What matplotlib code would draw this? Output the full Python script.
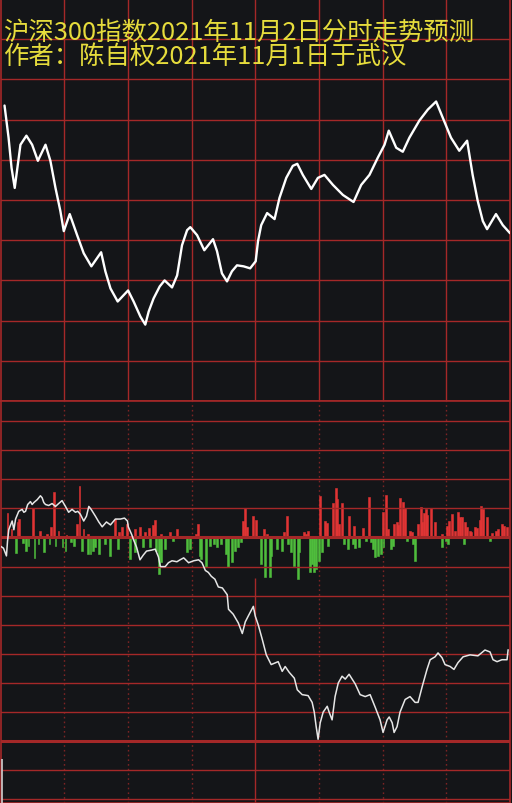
import matplotlib.pyplot as plt

plt.rcParams['font.family'] = ['Noto Sans CJK SC', 'DejaVu Sans']

title_1 = '沪深300指数2021年11月2日分时走势预测'
title_2 = '作者：陈自权2021年11月1日于武汉'

# top panel: forecast curve (minute of session, value)
fc_min = [1.9, 3.8, 5.2, 6.7, 9.4, 12.2, 14.9, 17.6, 21.2, 23.5,
          25.9, 28.2, 29.8, 32.6, 36.1, 39.2, 42.8, 47.4, 49.4, 51.8,
          55.2, 60.1, 62.7, 65.9, 68.2, 69.8, 72.1, 75.0, 77.3, 80.8,
          83.2, 85.5, 87.9, 89.4, 92.6, 96.0, 100.1, 102.0, 104.3, 106.7,
          109.0, 111.4, 114.5, 117.6, 120.2, 121.3, 122.8, 125.6, 129.1, 131.4,
          134.6, 137.7, 139.8, 142.4, 146.4, 149.5, 152.6, 156.6, 161.3, 166.3,
          169.9, 173.8, 177.7, 180.9, 182.9, 186.4, 189.5, 192.6, 197.3, 201.3,
          205.2, 208.3, 212.2, 216.1, 219.8, 222.4, 224.8, 227.2, 229.2, 233.4,
          236.6, 240.0]
fc_val = [294, 262, 232, 212, 255, 264, 255, 239, 255, 239,
          212, 189, 169, 186, 165, 147, 134, 148, 129, 112,
          99, 110, 99, 84, 76, 89, 102, 114, 120, 113,
          125, 155, 170, 173, 165, 150, 161, 149, 127, 119,
          129, 135, 134, 132, 139, 159, 175, 187, 181, 202,
          222, 234, 236, 225, 211, 222, 225, 215, 205, 198,
          215, 225, 242, 255, 269, 252, 248, 262, 279, 290,
          298, 282, 262, 249, 259, 225, 199, 179, 171, 186,
          175, 167]

# bottom panel: white line
ln_min = [0, 1.4, 2.8, 3.3, 3.9, 4.4, 5.5, 6.3, 7.1, 8.6,
          10.2, 11.0, 11.8, 12.8, 14.1, 14.9, 15.7, 17.3, 18.8, 19.6,
          20.4, 21.2, 22.7, 24.3, 25.9, 27.4, 29.0, 29.8, 30.6, 32.1,
          33.7, 35.3, 36.4, 37.6, 39.2, 40.5, 41.6, 42.7, 44.7, 46.3,
          47.9, 49.9, 51.8, 54.1, 56.5, 58.4, 59.8, 60.2, 61.8, 62.6,
          64.1, 65.7, 67.3, 68.8, 71.2, 72.9, 74.4, 75.3, 77.6, 79.1,
          80.8, 83.1, 84.6, 86.3, 88.6, 91.0, 93.3, 94.9, 96.5, 97.9,
          99.3, 101.0, 102.6, 104.5, 106.8, 107.4, 109.6, 112.0, 113.9, 115.3,
          116.7, 119.1, 120.0, 121.4, 123.3, 125.2, 127.5, 130.8, 132.7, 134.1,
          136.0, 138.4, 139.8, 142.1, 144.9, 146.8, 147.8, 148.7, 149.6, 150.6,
          152.0, 153.9, 154.8, 156.2, 157.6, 159.1, 160.9, 162.4, 164.2, 167.1,
          169.4, 171.8, 174.1, 176.5, 178.8, 180.2, 182.1, 183.1, 184.5, 185.4,
          186.8, 188.2, 190.6, 192.9, 195.3, 196.7, 198.6, 200.9, 202.4, 204.7,
          206.1, 208.0, 209.4, 211.8, 213.6, 215.5, 217.9, 221.2, 224.9, 228.2,
          230.6, 232.0, 233.9, 236.2, 238.6, 239.1]
ln_val = [-9, -11, -19, -4, 8, 11, 17, 8, 19, 27,
          29, 26, 27, 34, 37, 34, 36, 39, 43, 41,
          36, 34, 33, 35, 32, 35, 38, 35, 32, 26,
          29, 26, 27, 24, 17, 22, 32, 29, 22, 16,
          11, 16, 13, 19, 19, 20, 17, 11, 3, -2,
          -10, -23, -18, -14, -13, -12, -20, -30, -30, -26,
          -24, -25, -23, -21, -26, -24, -23, -26, -34, -36,
          -40, -43, -51, -52, -59, -74, -79, -88, -99, -87,
          -81, -71, -81, -90, -105, -121, -131, -128, -138, -133,
          -139, -145, -157, -162, -163, -170, -180, -195, -208, -191,
          -180, -174, -180, -188, -164, -150, -143, -146, -141, -151,
          -162, -164, -162, -175, -188, -201, -188, -185, -191, -201,
          -195, -180, -167, -164, -170, -170, -154, -136, -126, -123,
          -119, -124, -131, -133, -136, -129, -123, -121, -122, -116,
          -118, -126, -128, -126, -126, -116]

# bottom panel: red (up) and green (down) bars
up_min = [3.3, 5.2, 8.0, 8.9, 15.5, 18.8, 22.1, 24.0, 25.4, 27.3,
          31.1, 36.2, 37.2, 39.1, 41.4, 54.1, 56.0, 57.4, 59.8, 63.5,
          65.9, 68.2, 70.1, 72.0, 72.9, 75.8, 80.0, 83.3, 92.2, 93.2,
          114.4, 115.3, 116.2, 119.1, 120.5, 124.2, 125.6, 133.6, 135.1, 143.1,
          144.0, 144.9, 150.6, 152.9, 153.9, 156.7, 158.1, 158.6, 159.5, 160.9,
          164.2, 166.6, 170.8, 173.6, 180.2, 181.6, 182.6, 185.4, 186.7, 187.3,
          188.2, 189.6, 190.4, 192.9, 193.9, 196.7, 198.1, 198.6, 199.5, 200.5,
          200.9, 202.8, 204.7, 208.0, 210.4, 211.3, 212.7, 214.1, 215.5, 216.5,
          217.4, 218.8, 219.8, 221.2, 221.6, 223.5, 224.5, 225.9, 226.4, 227.3,
          229.2, 231.5, 233.4, 234.4, 236.2, 237.2, 238.6]
up_val = [25, 9, 16, 19, 30, 7, 4, 11, 47, 7,
          3, 14, 53, 9, 4, 19, 6, 11, 14, 9,
          11, 6, 10, 13, 18, 4, 6, 9, 4, 14,
          17, 30, 11, 22, 18, 9, 4, 6, 22, 6,
          4, 7, 43, 17, 15, 36, 51, 40, 14, 36,
          22, 12, 10, 42, 26, 44, 9, 14, 16, 13,
          41, 37, 30, 7, 6, 14, 31, 16, 25, 29,
          23, 30, 16, 4, 12, 17, 24, 7, 26, 21,
          21, 16, 11, 7, 6, 11, 10, 18, 32, 29,
          21, 5, 7, 9, 14, 12, 11]
dn_min = [7.5, 10.4, 11.8, 13.2, 16.0, 17.9, 20.5, 23.1, 25.9, 29.2,
          30.6, 33.4, 34.8, 38.6, 41.4, 42.4, 43.5, 44.7, 46.4, 49.4,
          51.5, 55.5, 61.2, 63.5, 67.3, 70.6, 73.4, 74.8, 75.8, 77.6,
          81.4, 88.0, 89.4, 94.1, 94.6, 96.9, 98.8, 100.7, 102.1, 104.0,
          106.4, 107.3, 109.2, 110.6, 112.0, 113.4, 122.8, 124.7, 127.1, 127.5,
          130.4, 132.7, 135.5, 136.9, 138.4, 140.2, 140.7, 145.9, 146.8, 147.8,
          148.7, 150.1, 151.5, 154.4, 161.9, 163.8, 166.1, 167.1, 168.9, 172.2,
          174.6, 175.5, 176.5, 177.9, 179.3, 180.4, 184.0, 184.9, 191.5, 194.4,
          195.3, 208.0, 209.9, 210.8, 218.4, 230.6]
dn_val = [-16, -6, -14, -9, -21, -7, -15, -7, -9, -10,
          -14, -5, -9, -14, -17, -17, -14, -10, -17, -7,
          -19, -12, -22, -15, -10, -10, -14, -38, -25, -12,
          -4, -15, -12, -19, -22, -30, -9, -7, -10, -7,
          -17, -30, -25, -14, -10, -5, -27, -41, -41, -19,
          -12, -14, -7, -15, -29, -43, -15, -36, -27, -36,
          -32, -24, -15, -9, -7, -12, -7, -11, -10, -4,
          -5, -12, -20, -19, -17, -10, -12, -9, -4, -7,
          -24, -10, -4, -7, -7, -4]

# first-minute stub at the bottom left
stub_min = [0.9]
stub_top = [-228]

bg = '#141518'
grid_red = '#a52828'
dot_red = '#7c2424'
bar_red = '#e03434'
bar_green = '#4fbd3c'

fig = plt.figure(figsize=(5.12, 8.04), dpi=100, facecolor=bg)
ax1 = fig.add_axes([0.5 / 512, 0.5, 509.5 / 512, 0.5])
ax2 = fig.add_axes([0.5 / 512, 0.0, 509.5 / 512, 0.5])

for ax in (ax1, ax2):
    ax.set_facecolor(bg)
    ax.set_xlim(0, 240)
    ax.set_xticks([])
    ax.set_yticks([])
    for sp in ax.spines.values():
        sp.set_color(grid_red)
        sp.set_linewidth(1.2)

# top panel
ax1.set_ylim(0, 400)
for y in range(40, 400, 40):
    ax1.axhline(y, color=grid_red, lw=1.0, zorder=1)
for x in range(30, 240, 30):
    ax1.axvline(x, color=grid_red, lw=1.0, zorder=1)
ax1.plot(fc_min, fc_val, color='white', lw=1.7, solid_joinstyle='round',
         solid_capstyle='round', zorder=3)

# bottom panel
y_lo, y_hi = -273.7, 140.7
ax2.set_ylim(y_lo, y_hi)
for y in range(-270, 121, 30):
    thick = y in (0, -210)
    ax2.axhline(y, color=grid_red, lw=2.2 if thick else 1.0, zorder=2)
for x in (30, 60, 90, 150, 180, 210):
    ax2.axvline(x, color=dot_red, lw=1.0, ls=(0, (1.2, 2.2)), zorder=1)
ax2.vlines(120, y_lo, -42, color=grid_red, lw=1.0, zorder=1)

ax2.bar(up_min, up_val, width=0.9, color=bar_red, edgecolor=bar_red,
        linewidth=0.4, zorder=1.5)
ax2.bar(dn_min, dn_val, width=0.9, color=bar_green, edgecolor=bar_green,
        linewidth=0.4, zorder=1.5)
ax2.plot(ln_min, ln_val, color='#e6e6e6', lw=1.1, zorder=3)
ax2.vlines(stub_min, y_lo, stub_top, color='#cfcfcf', lw=1.2, zorder=3)

fig.text(3 / 512, 1 - 33 / 804, title_1, color='#e6dc3c', fontsize=18.3,
         ha='left', va='center')
fig.text(3 / 512, 1 - 57 / 804, title_2, color='#e6dc3c', fontsize=18.3,
         ha='left', va='center')

fig.savefig('out.png', dpi=100, facecolor=bg)
